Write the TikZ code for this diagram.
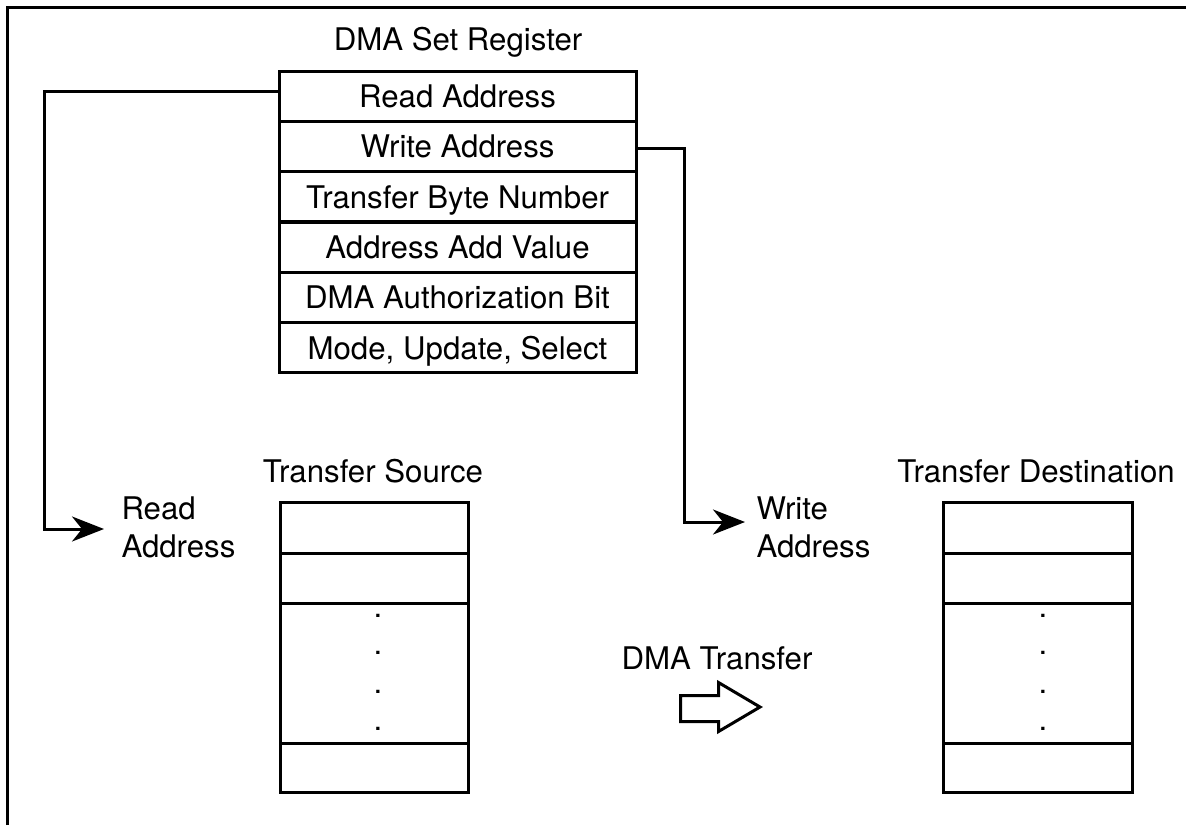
\documentclass[tikz,border=0pt]{standalone}
\usepackage{fontspec}
\setmainfont{TeX Gyre Heros}
\usetikzlibrary{arrows.meta,calc}
\begin{document}
\begin{tikzpicture}[x=0.5pt,y=-0.5pt,
  every node/.style={font=\fontsize{15.6}{19}\selectfont, inner sep=0pt, outer sep=0pt},
  regrow/.style={draw, line width=1.5pt, minimum width=178.5pt, minimum height=25.17pt, text height=11.2pt, text depth=0pt},
  cell/.style={draw, line width=1.5pt, minimum width=94pt},
  conn/.style={line width=1.5pt, line join=miter, -{Stealth[length=16pt,width=12.5pt,inset=5pt]}},
  lbl/.style={anchor=north west, align=left},
  dotlbl/.style={anchor=base},
  title/.style={anchor=base}
]
\useasboundingbox (0,0) rectangle (1186,825);
% outer frame (only left and top edges visible)
\draw[line width=1.8pt, line join=miter] (7.5,825) -- (7.5,7.5) -- (1186,7.5);

% DMA set register
\node[title] (regtitle) at (458,50) {DMA Set Register};
\node[regrow] (reg1) at (457.5,96.2) {Read Address};
\node[regrow] (reg2) at (457.5,146.5) {Write Address};
\node[regrow] (reg3) at (457.5,196.8) {Transfer Byte Number};
\node[regrow] (reg4) at (457.5,247.2) {Address Add Value};
\node[regrow] (reg5) at (457.5,297.5) {DMA Authorization Bit};
\node[regrow] (reg6) at (457.5,347.8) {Mode, Update, Select};

% Transfer source
\node[title] (srctitle) at (373,482) {Transfer Source};
\node[cell, minimum height=25.5pt] (src1) at (374,527.5) {};
\node[cell, minimum height=25pt] (src2) at (374,578) {};
\node[cell, minimum height=70pt] (srcmid) at (374,673) {};
\node[cell, minimum height=24.5pt] (src4) at (374,767.5) {};
\node[dotlbl] (sd1) at (378,617) {.};
\node[dotlbl] (sd2) at (378,654.7) {.};
\node[dotlbl] (sd3) at (378,693) {.};
\node[dotlbl] (sd4) at (378,730.5) {.};

% Transfer destination
\node[title] (dsttitle) at (1036,482) {Transfer Destination};
\node[cell, minimum width=94.5pt, minimum height=25.5pt] (dst1) at (1037.5,527.5) {};
\node[cell, minimum width=94.5pt, minimum height=25pt] (dst2) at (1037.5,578) {};
\node[cell, minimum width=94.5pt, minimum height=70pt] (dstmid) at (1037.5,673) {};
\node[cell, minimum width=94.5pt, minimum height=24.5pt] (dst4) at (1037.5,767.5) {};
\node[dotlbl] (dd1) at (1043,617) {.};
\node[dotlbl] (dd2) at (1043,654.7) {.};
\node[dotlbl] (dd3) at (1043,693) {.};
\node[dotlbl] (dd4) at (1043,730.5) {.};

% address labels
\node[lbl] (rdlab) at (121.5,497) {Read\\Address};
\node[lbl] (wrlab) at (756.5,497) {Write\\Address};

% connectors
\coordinate (rdcorner) at (44,529);
\coordinate (rdtip) at (104,529);
\draw[conn] ([yshift=2.6pt]reg1.west) -| (rdcorner) -- (rdtip);
\coordinate (wrcorner) at (684,522);
\coordinate (wrtip) at (745,522);
\draw[conn] ([yshift=-0.75pt]reg2.east) -| (wrcorner) -- (wrtip);

% DMA transfer block arrow
\node[title] (dmalab) at (717,669) {DMA Transfer};
\draw[line width=1.5pt, line join=miter] (680.5,695.5) -- (718.5,695.5) -- (718.5,682.5) -- (760,707) -- (718.5,731.5) -- (718.5,721.5) -- (680.5,721.5) -- cycle;
\end{tikzpicture}
\end{document}
